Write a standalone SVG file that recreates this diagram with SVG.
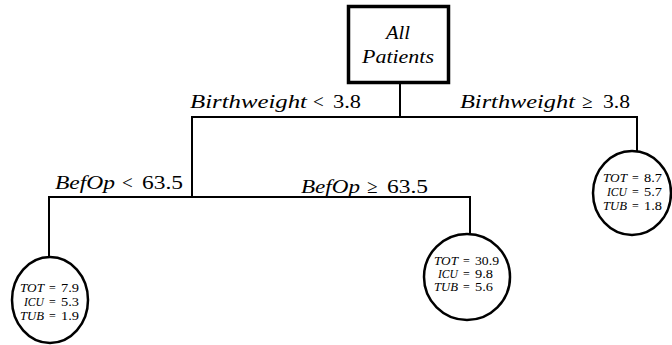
<svg xmlns="http://www.w3.org/2000/svg" width="672" height="345" viewBox="0 0 672 345">
<style>
.t{font-family:"Liberation Serif","Times New Roman",serif;fill:#000}
.lab{font-size:19px}
.c{font-size:12px}
.i{font-style:italic}
.ln{stroke:#000;stroke-width:2;fill:none}
.nd{stroke:#000;stroke-width:2.5;fill:#fff}
</style>
<rect width="672" height="345" fill="#fff"/>
<g id="connectors">
<path class="ln" d="M400 83 V117 M191 117 H638 M192 116 V197 M637 116 V153 M48 197 H471 M49 196 V257 M470 196 V235"/>
</g>
<g id="root">
<rect x="348.5" y="6.5" width="100" height="76" fill="#fff" stroke="#000" stroke-width="3.5"/>
<text class="t lab i" x="398" y="39" text-anchor="middle" textLength="24" lengthAdjust="spacingAndGlyphs">All</text>
<text class="t lab i" x="398" y="63" text-anchor="middle" textLength="72" lengthAdjust="spacingAndGlyphs">Patients</text>
</g>
<g id="label-bw-lt">
<text class="t lab" y="108"><tspan class="i" x="190" textLength="117" lengthAdjust="spacingAndGlyphs">Birthweight</tspan><tspan x="313">&lt;</tspan><tspan x="333" textLength="28" lengthAdjust="spacingAndGlyphs">3.8</tspan></text>
</g>
<g id="label-bw-ge">
<text class="t lab" y="108"><tspan class="i" x="460" textLength="115" lengthAdjust="spacingAndGlyphs">Birthweight</tspan><tspan x="582">≥</tspan><tspan x="603" textLength="27" lengthAdjust="spacingAndGlyphs">3.8</tspan></text>
</g>
<g id="label-bo-lt">
<text class="t lab" y="189"><tspan class="i" x="55" textLength="60" lengthAdjust="spacingAndGlyphs">BefOp</tspan><tspan x="122">&lt;</tspan><tspan x="142" textLength="41" lengthAdjust="spacingAndGlyphs">63.5</tspan></text>
</g>
<g id="label-bo-ge">
<text class="t lab" y="193"><tspan class="i" x="301" textLength="59" lengthAdjust="spacingAndGlyphs">BefOp</tspan><tspan x="367">≥</tspan><tspan x="387" textLength="41" lengthAdjust="spacingAndGlyphs">63.5</tspan></text>
</g>
<g id="leaf-left">
<ellipse class="nd" cx="50" cy="300" rx="38" ry="43"/>
<text class="t c" y="292"><tspan class="i" x="20" textLength="24" lengthAdjust="spacingAndGlyphs">TOT</tspan><tspan x="49">=</tspan><tspan x="61" textLength="18" lengthAdjust="spacingAndGlyphs">7.9</tspan></text>
<text class="t c" y="306"><tspan class="i" x="24" textLength="20" lengthAdjust="spacingAndGlyphs">ICU</tspan><tspan x="49">=</tspan><tspan x="61" textLength="18" lengthAdjust="spacingAndGlyphs">5.3</tspan></text>
<text class="t c" y="320"><tspan class="i" x="20" textLength="24" lengthAdjust="spacingAndGlyphs">TUB</tspan><tspan x="49">=</tspan><tspan x="61" textLength="18" lengthAdjust="spacingAndGlyphs">1.9</tspan></text>
</g>
<g id="leaf-mid">
<circle class="nd" cx="467" cy="277" r="43"/>
<text class="t c" y="265"><tspan class="i" x="434" textLength="24" lengthAdjust="spacingAndGlyphs">TOT</tspan><tspan x="463">=</tspan><tspan x="475" textLength="24" lengthAdjust="spacingAndGlyphs">30.9</tspan></text>
<text class="t c" y="278"><tspan class="i" x="438" textLength="20" lengthAdjust="spacingAndGlyphs">ICU</tspan><tspan x="463">=</tspan><tspan x="475" textLength="18" lengthAdjust="spacingAndGlyphs">9.8</tspan></text>
<text class="t c" y="291"><tspan class="i" x="434" textLength="24" lengthAdjust="spacingAndGlyphs">TUB</tspan><tspan x="463">=</tspan><tspan x="475" textLength="18" lengthAdjust="spacingAndGlyphs">5.6</tspan></text>
</g>
<g id="leaf-right">
<ellipse class="nd" cx="632" cy="193" rx="39" ry="42"/>
<text class="t c" y="182"><tspan class="i" x="603" textLength="24" lengthAdjust="spacingAndGlyphs">TOT</tspan><tspan x="632">=</tspan><tspan x="644" textLength="18" lengthAdjust="spacingAndGlyphs">8.7</tspan></text>
<text class="t c" y="196"><tspan class="i" x="607" textLength="20" lengthAdjust="spacingAndGlyphs">ICU</tspan><tspan x="632">=</tspan><tspan x="644" textLength="18" lengthAdjust="spacingAndGlyphs">5.7</tspan></text>
<text class="t c" y="210"><tspan class="i" x="603" textLength="24" lengthAdjust="spacingAndGlyphs">TUB</tspan><tspan x="632">=</tspan><tspan x="644" textLength="18" lengthAdjust="spacingAndGlyphs">1.8</tspan></text>
</g>
</svg>
